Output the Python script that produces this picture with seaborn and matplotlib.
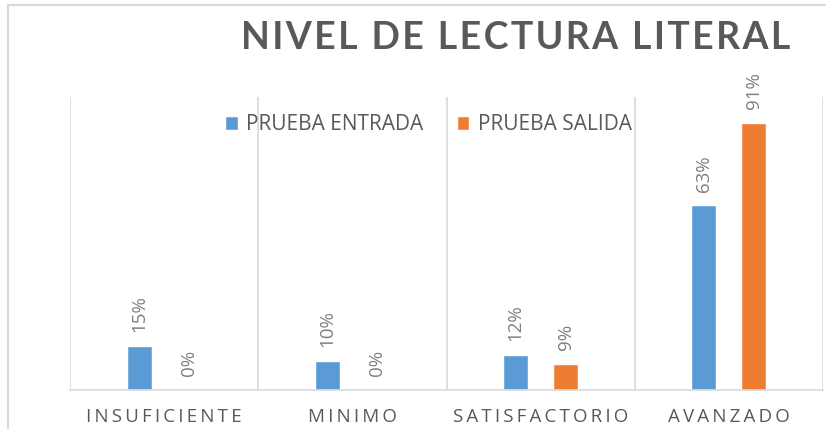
import numpy as np
import pandas as pd
import matplotlib
matplotlib.use('Agg')
import matplotlib.pyplot as plt
import seaborn as sns
from matplotlib.patches import Rectangle

# Data
categories = ['INSUFICIENTE', 'MINIMO', 'SATISFACTORIO', 'AVANZADO']
entrada = [0.15, 0.10, 0.12, 0.63]
salida = [0.00, 0.00, 0.09, 0.91]
series_names = ['PRUEBA ENTRADA', 'PRUEBA SALIDA']
colors = ['#5B9BD5', '#ED7D31']
title = 'NIVEL DE LECTURA LITERAL'

df = pd.DataFrame({
    'nivel': categories * 2,
    'valor': entrada + salida,
    'prueba': [series_names[0]] * len(categories) + [series_names[1]] * len(categories),
})

sns.set_theme(style='white')
plt.rcParams['font.family'] = ['Open Sans', 'DejaVu Sans']

fig = plt.figure(figsize=(8.26, 4.29), dpi=100)
ax = fig.add_axes([70 / 826, 1 - 390 / 429, 753 / 826, 293 / 429])

sns.barplot(data=df, x='nivel', y='valor', hue='prueba', order=categories,
            hue_order=series_names, palette=colors, width=0.53, gap=0.5,
            saturation=1, ax=ax)

# rotated value labels above bars
for container in ax.containers:
    labels = [f'{v * 100:.0f}%' for v in container.datavalues]
    ax.bar_label(container, labels=labels, rotation=90, padding=10,
                 fontsize=13.5, color='#7F7F7F')

ax.set_ylim(0, 1.0)
ax.set_xlim(-0.5, len(categories) - 0.5)
ax.set_yticks([])
ax.set_xlabel('')
ax.set_ylabel('')

# vertical separators between categories
ax.set_xticks(np.arange(-0.5, len(categories)), minor=True)
ax.grid(which='minor', axis='x', color='#D9D9D9', linewidth=1.2)
ax.tick_params(axis='x', which='both', length=0, pad=13)

spaced = ['\u2009'.join(c) for c in categories]
ax.set_xticks(range(len(categories)))
ax.set_xticklabels(spaced, fontsize=13.5, color='#595959')

for side in ['top', 'left', 'right']:
    ax.spines[side].set_visible(False)
ax.spines['bottom'].set_color('#D9D9D9')
ax.spines['bottom'].set_linewidth(1.2)

leg = ax.legend(loc='upper center', bbox_to_anchor=(0.476, 1.005), ncol=2,
                frameon=False, fontsize=15, handlelength=0.6, handleheight=0.6,
                columnspacing=1.6, handletextpad=0.4)
for t in leg.get_texts():
    t.set_color('#595959')

fig.text(0.957, 1 - 38 / 429, '\u200a'.join(title), ha='right', va='center',
         fontsize=27, fontweight='bold', color='#595959', family=['Lato', 'DejaVu Sans'])

# chart frame (cropped on right and bottom)
fig.patches.append(Rectangle((8 / 826, -0.1), 1.2, 1 - 5 / 429 + 0.1,
                             transform=fig.transFigure, fill=False,
                             edgecolor='#D9D9D9', linewidth=1.5))

fig.savefig('out.png', dpi=100)
